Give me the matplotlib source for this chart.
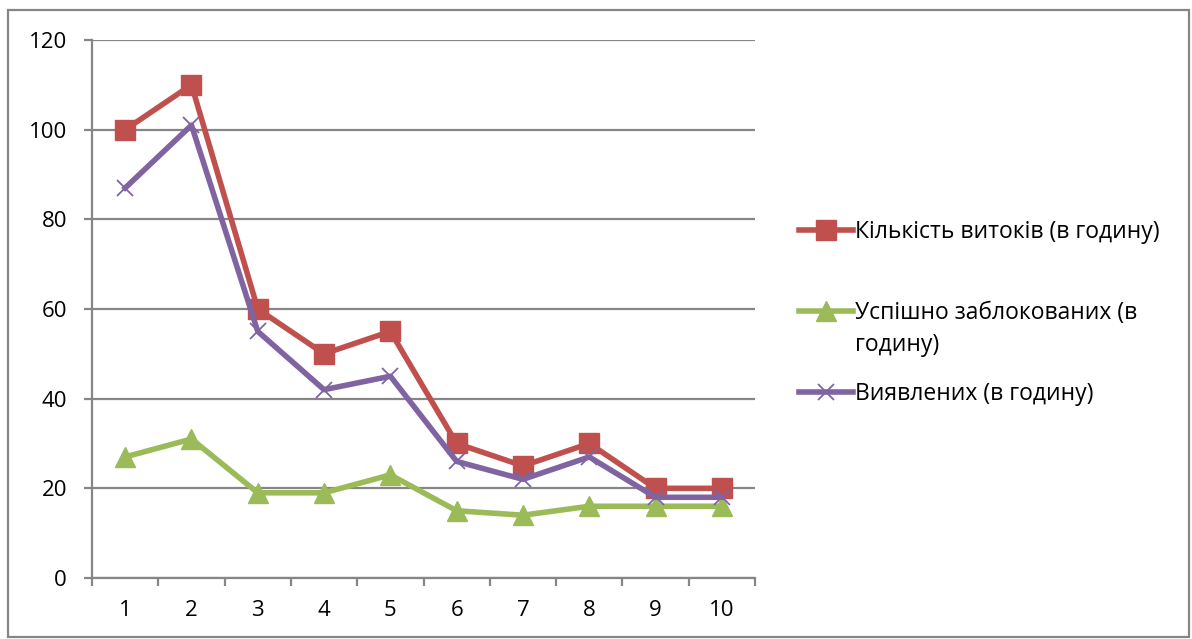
import matplotlib.pyplot as plt
from matplotlib.patches import Rectangle

plt.rcParams['font.family'] = ['Open Sans', 'DejaVu Sans']

hours = [1, 2, 3, 4, 5, 6, 7, 8, 9, 10]
leaks = [100, 110, 60, 50, 55, 30, 25, 30, 20, 20]
blocked = [27, 31, 19, 19, 23, 15, 14, 16, 16, 16]
detected = [87, 101, 55, 42, 45, 26, 22, 27, 18, 18]

labels = ['Кількість витоків (в годину)',
          'Успішно заблокованих (в',
          'Виявлених (в годину)']
label_tail = 'годину)'

fig = plt.figure(figsize=(11.92, 6.39), dpi=100)
ax = fig.add_axes([0.0772, 0.0955, 0.5562, 0.8419])

grey = '#868686'
ax.plot(hours, leaks, color='#C0504D', lw=4, marker='s', ms=14,
        label=labels[0], zorder=3)
ax.plot(hours, blocked, color='#9BBB59', lw=4, marker='^', ms=15,
        label=labels[1], zorder=3)
ax.plot(hours, detected, color='#8064A2', lw=4, marker='x', ms=12,
        mew=1.3, label=labels[2], zorder=4)

ax.set_xlim(0.5, 10.5)
ax.set_ylim(0, 120)
ax.set_yticks(range(0, 121, 20))
ax.set_xticks(hours)
ax.set_xticks([x + 0.5 for x in range(0, 11)], minor=True)
ax.yaxis.grid(True, color=grey, lw=1.6)
ax.set_axisbelow(True)

for s in ['top', 'right']:
    ax.spines[s].set_visible(False)
for s in ['left', 'bottom']:
    ax.spines[s].set_color(grey)
    ax.spines[s].set_linewidth(1.6)

ax.tick_params(axis='y', length=6, width=1.6, color=grey, labelsize=16, pad=12)
ax.tick_params(axis='x', which='major', length=0, labelsize=16, pad=16)
ax.tick_params(axis='x', which='minor', length=6, width=1.6, color=grey)

leg = ax.legend(loc='upper left', bbox_to_anchor=(1.035, 0.704), frameon=False,
                fontsize=16.5, handlelength=2.35, handletextpad=0.1,
                labelspacing=2.48)

# second label wraps onto a new line below its first line
ax.annotate(label_tail, xy=(0, 0), xycoords=leg.get_texts()[1],
            xytext=(0, -6), textcoords='offset points',
            ha='left', va='top', fontsize=16.5, zorder=6)

fig.patches.append(Rectangle((0.0067, 0.003), 0.9906, 0.981, transform=fig.transFigure,
                             fill=False, edgecolor=grey, lw=1.6))

fig.savefig('out.png', dpi=100)
